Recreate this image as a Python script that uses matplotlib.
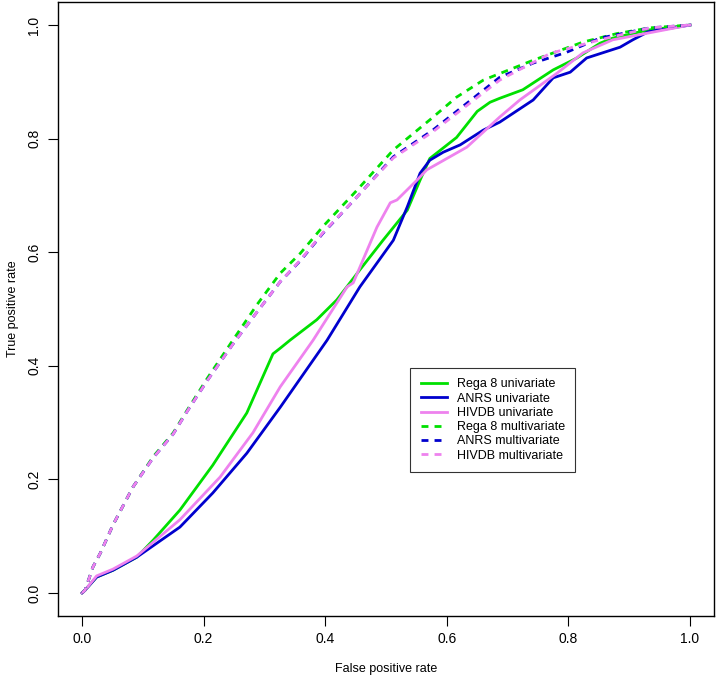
import matplotlib
matplotlib.use("Agg")
import matplotlib.pyplot as plt

plt.rcParams['font.family'] = ['Liberation Sans', 'DejaVu Sans']

# ROC curves
rega_uni_fpr = [0, 0.005, 0.024, 0.051, 0.09, 0.117, 0.161, 0.215, 0.271, 0.314, 0.326, 0.342,
                0.386, 0.419, 0.457, 0.495, 0.535, 0.556, 0.572, 0.616, 0.65, 0.671, 0.687,
                0.725, 0.775, 0.814, 0.852, 0.873, 0.93, 1.0]
rega_uni_tpr = [0, 0.005, 0.028, 0.04, 0.063, 0.093, 0.146, 0.225, 0.317, 0.421, 0.431, 0.445,
                0.481, 0.516, 0.569, 0.621, 0.674, 0.727, 0.765, 0.802, 0.848, 0.864, 0.871,
                0.886, 0.921, 0.942, 0.968, 0.977, 0.991, 1.0]

anrs_uni_fpr = [0, 0.005, 0.024, 0.051, 0.09, 0.161, 0.215, 0.271, 0.326, 0.403, 0.457, 0.512,
                0.535, 0.556, 0.572, 0.594, 0.622, 0.66, 0.687, 0.742, 0.775, 0.803, 0.83,
                0.885, 0.906, 0.931, 1.0]
anrs_uni_tpr = [0, 0.005, 0.028, 0.04, 0.063, 0.116, 0.176, 0.246, 0.327, 0.445, 0.539, 0.621,
                0.68, 0.739, 0.762, 0.776, 0.789, 0.815, 0.829, 0.868, 0.907, 0.917, 0.942,
                0.961, 0.974, 0.988, 1.0]

hivdb_uni_fpr = [0, 0.005, 0.024, 0.051, 0.09, 0.161, 0.227, 0.281, 0.326, 0.38, 0.436, 0.446,
                 0.485, 0.507, 0.518, 0.551, 0.567, 0.605, 0.633, 0.687, 0.72, 0.781, 0.824,
                 0.873, 1.0]
hivdb_uni_tpr = [0, 0.005, 0.03, 0.042, 0.065, 0.129, 0.204, 0.282, 0.363, 0.445, 0.539, 0.546,
                 0.644, 0.687, 0.692, 0.727, 0.745, 0.768, 0.785, 0.838, 0.868, 0.915, 0.951,
                 0.974, 1.0]

rega_multi_fpr = [0, 0.005, 0.018, 0.03, 0.051, 0.084, 0.117, 0.15, 0.173, 0.206, 0.248,
                  0.288, 0.326, 0.359, 0.396, 0.452, 0.512, 0.572, 0.616, 0.66, 0.742,
                  0.824, 0.88, 0.934, 1.0]
rega_multi_tpr = [0, 0.005, 0.046, 0.07, 0.12, 0.187, 0.24, 0.282, 0.322, 0.378, 0.445,
                  0.508, 0.563, 0.598, 0.645, 0.709, 0.78, 0.833, 0.873, 0.903, 0.938,
                  0.97, 0.985, 0.995, 1.0]

anrs_multi_fpr = [0, 0.005, 0.018, 0.03, 0.051, 0.084, 0.117, 0.15, 0.173, 0.206, 0.248,
                  0.288, 0.326, 0.359, 0.396, 0.452, 0.512, 0.577, 0.687, 0.742, 0.797,
                  0.852, 0.934, 1.0]
anrs_multi_tpr = [0, 0.005, 0.046, 0.07, 0.12, 0.187, 0.238, 0.28, 0.32, 0.374, 0.438,
                  0.495, 0.548, 0.585, 0.633, 0.697, 0.768, 0.815, 0.908, 0.933, 0.952,
                  0.977, 0.995, 1.0]

hivdb_multi_fpr = [0, 0.005, 0.018, 0.03, 0.051, 0.084, 0.117, 0.15, 0.173, 0.206, 0.248,
                   0.288, 0.326, 0.359, 0.396, 0.452, 0.512, 0.577, 0.687, 0.77, 0.852,
                   0.934, 1.0]
hivdb_multi_tpr = [0, 0.005, 0.046, 0.07, 0.12, 0.187, 0.238, 0.28, 0.32, 0.374, 0.438,
                   0.495, 0.548, 0.586, 0.634, 0.697, 0.766, 0.812, 0.903, 0.95, 0.974,
                   0.995, 1.0]

labels = ["Rega 8 univariate", "ANRS univariate", "HIVDB univariate",
          "Rega 8 multivariate", "ANRS multivariate", "HIVDB multivariate"]
colors = ["#00E000", "#0000CD", "#EE82EE", "#00E000", "#0000CD", "#EE82EE"]
styles = ["-", "-", "-", (0, (2.5, 2.2)), (0, (2.5, 2.2)), (0, (2.5, 2.2))]

curves = [(rega_uni_fpr, rega_uni_tpr), (anrs_uni_fpr, anrs_uni_tpr),
          (hivdb_uni_fpr, hivdb_uni_tpr), (rega_multi_fpr, rega_multi_tpr),
          (anrs_multi_fpr, anrs_multi_tpr), (hivdb_multi_fpr, hivdb_multi_tpr)]

fig = plt.figure(figsize=(7.19, 6.8), dpi=100)
ax = fig.add_axes([0.0803, 0.0946, 0.9132, 0.902])

for (x, y), lab, col, ls in zip(curves, labels, colors, styles):
    ax.plot(x, y, color=col, linestyle=ls, linewidth=2.0, label=lab)

# R style axes: 4% padding, outward ticks
ax.set_xlim(-0.04, 1.04)
ax.set_ylim(-0.04, 1.04)
ticks = [0.0, 0.2, 0.4, 0.6, 0.8, 1.0]
ax.set_xticks(ticks)
ax.set_yticks(ticks)
ax.set_xticklabels(["%.1f" % t for t in ticks])
ax.set_yticklabels(["%.1f" % t for t in ticks], rotation=90, va='center')
ax.tick_params(direction='out', length=7, width=0.8, labelsize=10, pad=5)
for s in ax.spines.values():
    s.set_linewidth(1.0)

ax.set_xlabel("False positive rate", fontsize=9, labelpad=12)
ax.set_ylabel("True positive rate", fontsize=9, labelpad=6)

leg = ax.legend(loc='upper left', bbox_to_anchor=(0.537, 0.404), fontsize=9,
                frameon=True, fancybox=False, edgecolor='black', handlelength=2.1,
                borderpad=0.85, labelspacing=0.18, handletextpad=0.75, borderaxespad=0)
leg.get_frame().set_linewidth(0.8)

fig.savefig("out.png", dpi=100)
